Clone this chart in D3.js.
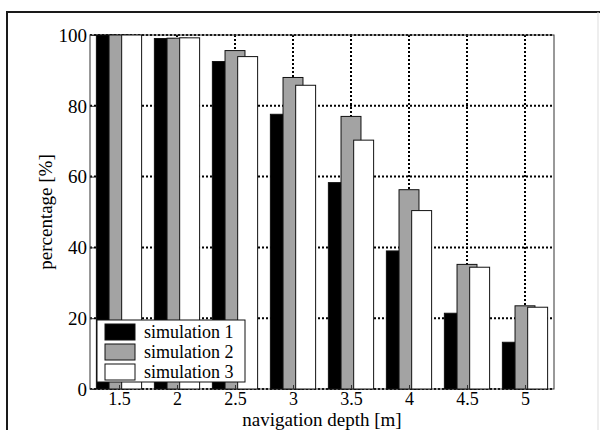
<!DOCTYPE html>
<html>
<head>
<meta charset="utf-8">
<script src="https://cdn.jsdelivr.net/npm/d3@7"></script>
<style>
    body { margin: 0; background: #fff; }
</style>
</head>
<body>
<div id="chart"></div>
<script>
// navigation depth groups and the three simulation results (%)
let depths = [1.5, 2, 2.5, 3, 3.5, 4, 4.5, 5];
let depthLabels = ['1.5', '2', '2.5', '3', '3.5', '4', '4.5', '5'];
let sim1 = [100, 99.0, 92.5, 77.6, 58.3, 39.0, 21.4, 13.2];
let sim2 = [100, 99.1, 95.6, 88.0, 77.0, 56.3, 35.2, 23.5];
let sim3 = [100, 99.2, 93.9, 85.8, 70.3, 50.4, 34.4, 23.1];
let seriesNames = ['simulation 1', 'simulation 2', 'simulation 3'];
let yTicks = [0, 20, 40, 60, 80, 100];

let width = 600, height = 430;
let plot = { left: 90, top: 35, right: 554, bottom: 389 };
let fills = ['#000000', '#a3a3a3', '#ffffff'];
let serif = '"Liberation Serif", "Times New Roman", "DejaVu Serif", serif';

let svg = d3.select('#chart').append('svg')
    .attr('width', width)
    .attr('height', height)
    .attr('font-family', serif);

// scanned page frame
svg.append('line').attr('x1', 7).attr('x2', 7).attr('y1', 12).attr('y2', height)
    .attr('stroke', '#1a1a1a').attr('stroke-width', 2);
svg.append('line').attr('x1', 6).attr('x2', width).attr('y1', 12).attr('y2', 12)
    .attr('stroke', '#1a1a1a').attr('stroke-width', 2);
svg.append('line').attr('x1', 598).attr('x2', 598).attr('y1', 12).attr('y2', height)
    .attr('stroke', '#dddddd').attr('stroke-width', 1);

let x = d3.scaleLinear().domain([1.25, 5.25]).range([plot.left, plot.right]);
let y = d3.scaleLinear().domain([0, 100]).range([plot.bottom, plot.top]);

// grid
let grid = svg.append('g').attr('class', 'grid');
grid.selectAll('.hgrid').data(yTicks).enter().append('line')
    .attr('x1', plot.left).attr('x2', plot.right)
    .attr('y1', d => y(d)).attr('y2', d => y(d))
    .attr('stroke', '#000').attr('stroke-width', 2)
    .attr('stroke-dasharray', '2,2');
grid.selectAll('.vgrid').data(depths).enter().append('line')
    .attr('x1', d => x(d)).attr('x2', d => x(d))
    .attr('y1', plot.top).attr('y2', plot.bottom)
    .attr('stroke', '#000').attr('stroke-width', 2)
    .attr('stroke-dasharray', '2,2');

// plot box
svg.append('rect')
    .attr('x', plot.left).attr('y', plot.top)
    .attr('width', plot.right - plot.left).attr('height', plot.bottom - plot.top)
    .attr('fill', 'none').attr('stroke', '#333').attr('stroke-width', 1);

// grouped, overlapping bars
let step = 0.109, barW = 0.172;
[sim1, sim2, sim3].forEach((values, s) => {
    svg.append('g').selectAll('rect').data(values).enter().append('rect')
        .attr('x', (d, i) => x(depths[i] + (s - 1) * step - barW / 2))
        .attr('y', d => y(d))
        .attr('width', x(barW) - x(0))
        .attr('height', d => y(0) - y(d))
        .attr('fill', fills[s])
        .attr('stroke', '#111')
        .attr('stroke-width', 1);
});

// axes
let yAxis = d3.axisLeft(y).tickValues(yTicks).tickSize(-4).tickPadding(3);
let yG = svg.append('g').attr('transform', `translate(${plot.left},0)`).call(yAxis);
yG.attr('font-family', serif).attr('font-size', 19);
yG.select('.domain').remove();
yG.selectAll('text').attr('dy', '0.33em').attr('fill', '#000');

let xAxis = d3.axisBottom(x).tickValues(depths).tickFormat((d, i) => depthLabels[i])
    .tickSize(-4).tickPadding(5);
let xG = svg.append('g').attr('transform', `translate(0,${plot.bottom})`).call(xAxis);
xG.attr('font-family', serif).attr('font-size', 18);
xG.select('.domain').remove();
xG.selectAll('text').attr('dy', '0.6em').attr('fill', '#000');
svg.selectAll('.tick line').attr('stroke', '#333');

svg.append('text')
    .attr('x', (plot.left + plot.right) / 2)
    .attr('y', 426)
    .attr('text-anchor', 'middle')
    .attr('font-size', 19)
    .text('navigation depth [m]');

svg.append('text')
    .attr('transform', `translate(52,${(plot.top + plot.bottom) / 2}) rotate(-90)`)
    .attr('text-anchor', 'middle')
    .attr('font-size', 19)
    .text('percentage [%]');

// legend
let legend = svg.append('g').attr('transform', 'translate(97,320)');
legend.append('rect')
    .attr('width', 148).attr('height', 62)
    .attr('fill', '#fff').attr('stroke', '#111').attr('stroke-width', 1);
seriesNames.forEach((name, i) => {
    legend.append('rect')
        .attr('x', 8).attr('y', 4 + i * 20)
        .attr('width', 30).attr('height', 16)
        .attr('fill', fills[i]).attr('stroke', '#111');
    legend.append('text')
        .attr('x', 47).attr('y', 18 + i * 20)
        .attr('font-size', 18)
        .text(name);
});
</script>
</body>
</html>
